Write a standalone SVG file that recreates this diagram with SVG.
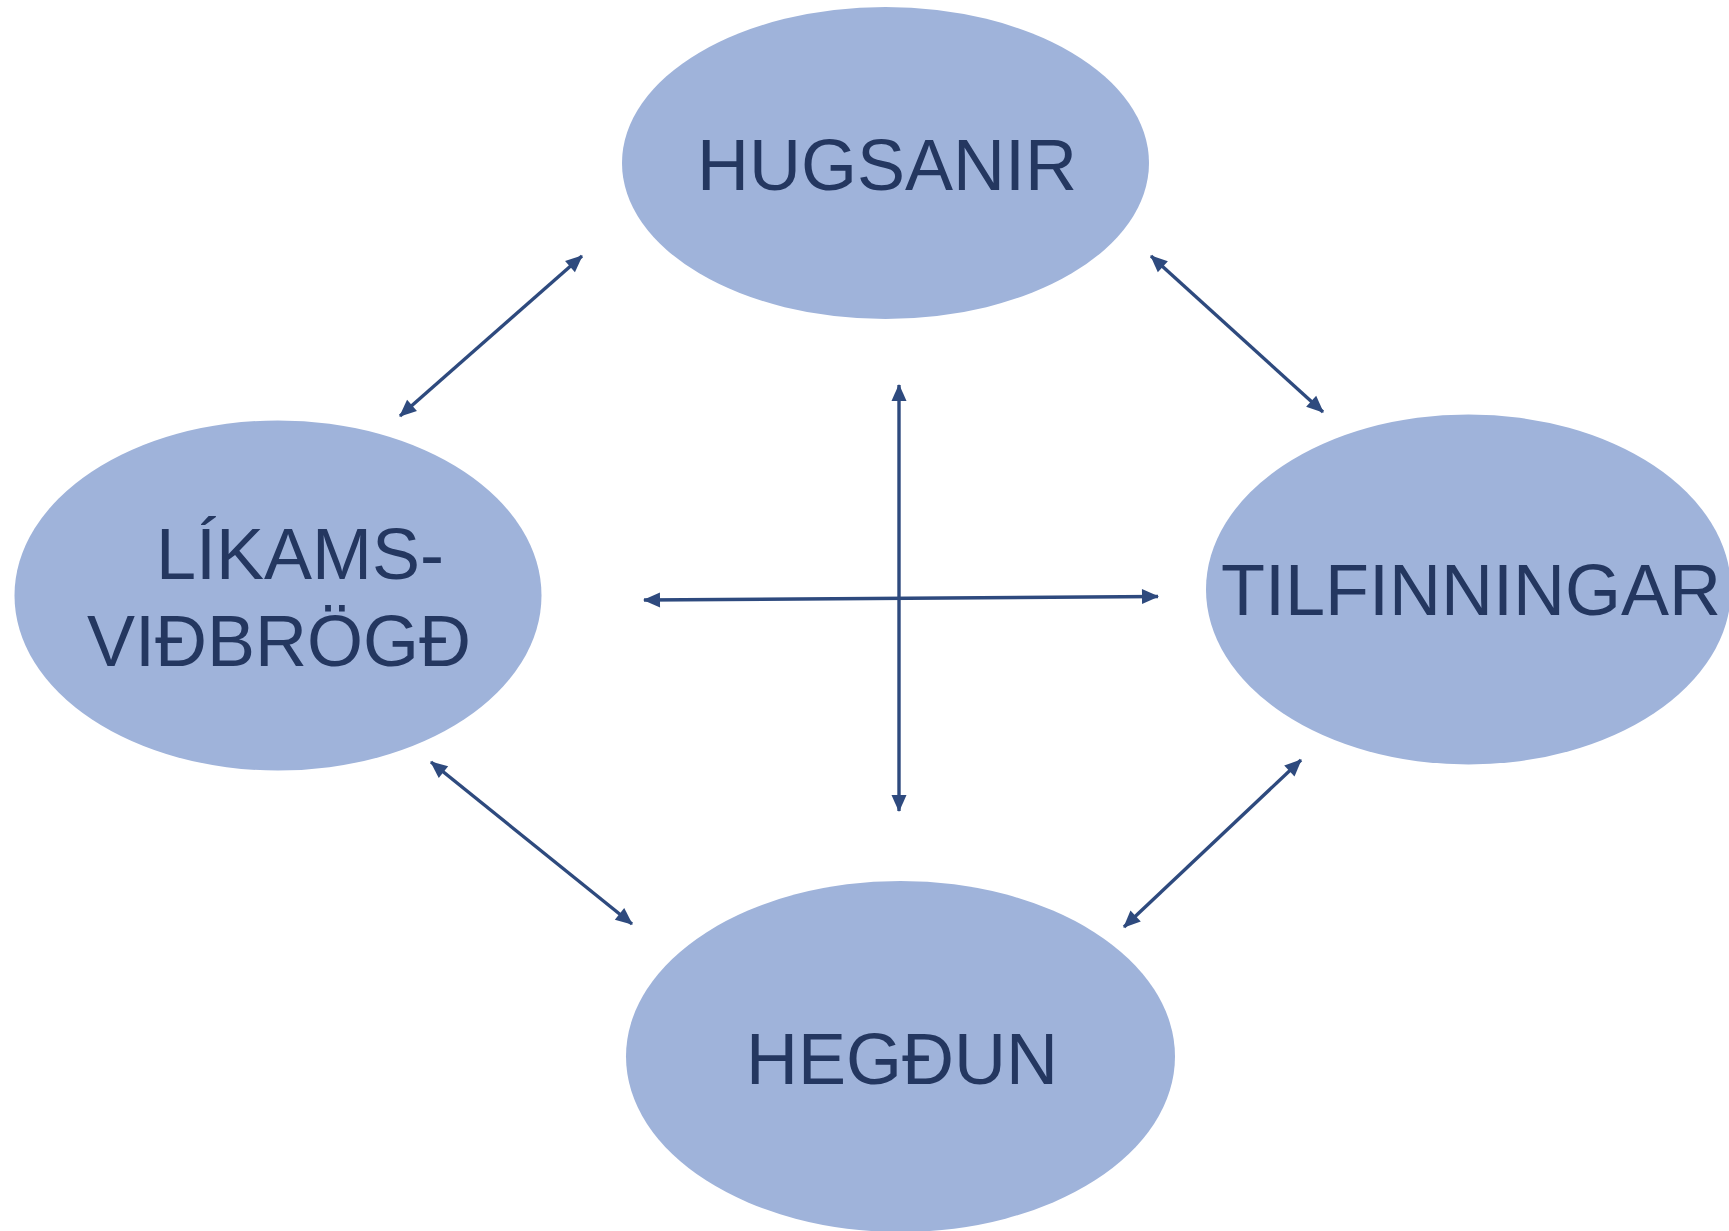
<svg xmlns="http://www.w3.org/2000/svg" width="1729" height="1231" viewBox="0 0 1729 1231">
  <style>
    .node { fill: #9FB3DA; }
    .label { font-family: "Liberation Sans", Arial, sans-serif; font-size: 72px; fill: #243760; }
    .conn { stroke: #2E4A7E; stroke-width: 3.4; fill: none; marker-start: url(#ah); marker-end: url(#ah); }
  </style>
  <defs>
    <marker id="ah" markerUnits="userSpaceOnUse" markerWidth="17" markerHeight="15" refX="16" refY="7.5" orient="auto-start-reverse" viewBox="0 0 17 15" overflow="visible">
      <path d="M0,0 L17,7.5 L0,15 z" fill="#2E4A7E"/>
    </marker>
  </defs>
  <rect width="1729" height="1231" fill="#FFFFFF"/>
  <g id="hugsanir">
    <ellipse class="node" cx="885.5" cy="163" rx="263.5" ry="156"/>
    <text class="label" x="887" y="190" text-anchor="middle">HUGSANIR</text>
  </g>
  <g id="likamsvidbrogd">
    <ellipse class="node" cx="278" cy="595.5" rx="263.5" ry="175"/>
    <text class="label" x="156" y="579">LÍKAMS-</text>
    <text class="label" x="87" y="666">VIÐBRÖGÐ</text>
  </g>
  <g id="tilfinningar">
    <ellipse class="node" cx="1468.5" cy="589.5" rx="262.5" ry="175"/>
    <text class="label" x="1221" y="615">TILFINNINGAR</text>
  </g>
  <g id="hegdun">
    <ellipse class="node" cx="900.5" cy="1056.5" rx="274.5" ry="175.5"/>
    <text class="label" x="902" y="1084" text-anchor="middle">HEGÐUN</text>
  </g>
  <g id="connectors">
    <line class="conn" x1="582" y1="256" x2="400" y2="416"/>
    <line class="conn" x1="1151" y1="256" x2="1323" y2="412"/>
    <line class="conn" x1="899" y1="385" x2="899" y2="811"/>
    <line class="conn" x1="644" y1="600" x2="1158" y2="596.5"/>
    <line class="conn" x1="431" y1="762" x2="632" y2="924"/>
    <line class="conn" x1="1301" y1="760" x2="1124" y2="927"/>
  </g>
</svg>
